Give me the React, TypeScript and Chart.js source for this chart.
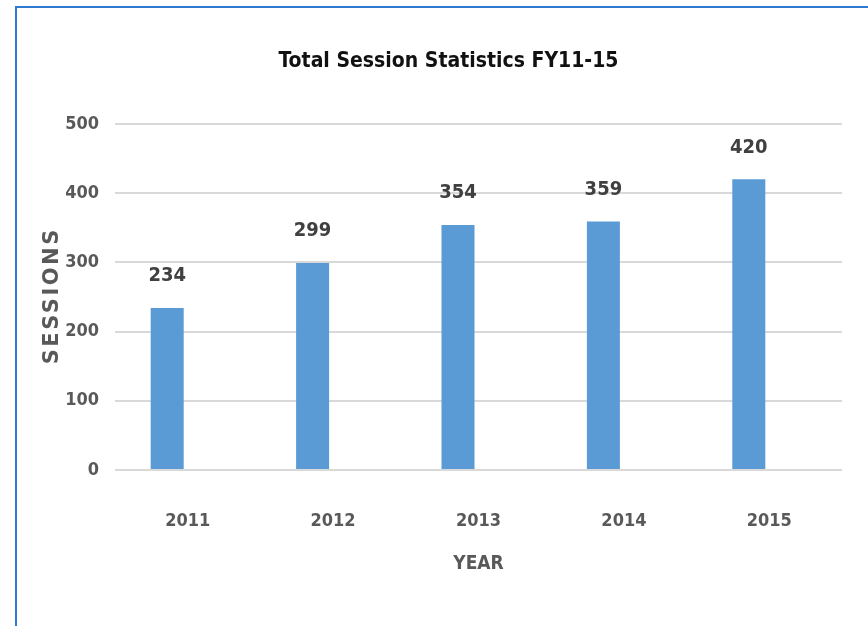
import React, { useEffect, useRef } from "react";
import { Chart, registerables } from "chart.js";

Chart.register(...registerables);

const categories = ["2011", "2012", "2013", "2014", "2015"];
const sessions = [234, 299, 354, 359, 420];
const spacerSeries = [null, null, null, null, null];
const yTicks = [0, 100, 200, 300, 400, 500];

const NARROW = "'Liberation Sans Narrow', 'DejaVu Sans Condensed', 'Noto Sans', sans-serif";

const dataLabelPlugin = {
  id: "dataLabels",
  afterDatasetsDraw(chart: any) {
    const ctx = chart.ctx;
    const meta = chart.getDatasetMeta(0);
    ctx.save();
    ctx.font = `bold 20px ${NARROW}`;
    ctx.fillStyle = "#404040";
    ctx.textAlign = "center";
    ctx.textBaseline = "middle";
    meta.data.forEach((el: any, i: number) => {
      ctx.fillText(String(sessions[i]), el.x, el.y - 32);
    });
    ctx.restore();
  },
};

const yTitlePlugin = {
  id: "yTitle",
  afterDraw(chart: any) {
    const ctx = chart.ctx;
    const area = chart.chartArea;
    ctx.save();
    ctx.translate(53, (area.top + area.bottom) / 2);
    ctx.rotate(-Math.PI / 2);
    ctx.font = "bold 21px 'DejaVu Sans', 'Liberation Sans', sans-serif";
    (ctx as any).letterSpacing = "2.5px";
    ctx.fillStyle = "#595959";
    ctx.textAlign = "center";
    ctx.textBaseline = "middle";
    ctx.fillText("SESSIONS", 1.25, 0);
    ctx.restore();
  },
};

export default function App() {
  const ref = useRef<HTMLCanvasElement>(null);

  useEffect(() => {
    if (!ref.current) return;
    const chart = new Chart(ref.current, {
      type: "bar",
      data: {
        labels: categories,
        datasets: [
          {
            label: "Sessions",
            data: sessions,
            backgroundColor: "#5b9bd5",
            categoryPercentage: 0.564,
            barPercentage: 0.805,
          },
          {
            label: "",
            data: spacerSeries as any,
            backgroundColor: "#ed7d31",
            categoryPercentage: 0.564,
            barPercentage: 0.805,
          },
        ],
      },
      options: {
        responsive: false,
        animation: false,
        layout: { padding: { left: 55, right: 26, top: 0, bottom: 0 } },
        plugins: {
          legend: { display: false },
          tooltip: { enabled: false },
          title: {
            display: true,
            text: "Total Session Statistics FY11-15",
            color: "#111111",
            font: { family: NARROW, size: 21, weight: "bold" },
            padding: { top: 49.4, bottom: 49.4 },
          },
        },
        scales: {
          x: {
            grid: { display: false },
            border: { display: false },
            ticks: {
              color: "#595959",
              font: { family: NARROW, size: 18, weight: "bold" },
              padding: 32.2,
              maxRotation: 0,
            },
            title: {
              display: true,
              text: "YEAR",
              color: "#595959",
              font: { family: NARROW, size: 19, weight: "bold" },
              padding: { top: 0, bottom: 50.6 },
            },
            afterFit: (s: any) => {
              s.height = 156;
            },
          },
          y: {
            min: 0,
            max: 500,
            afterBuildTicks: (s: any) => {
              s.ticks = yTicks.map((v) => ({ value: v }));
            },
            grid: { color: "#d9d9d9", lineWidth: 2, drawTicks: false },
            border: { display: false },
            ticks: {
              color: "#595959",
              font: { family: NARROW, size: 18, weight: "bold" },
              padding: 16,
            },
            afterFit: (s: any) => {
              s.width = 60;
            },
          },
        },
      },
      plugins: [dataLabelPlugin, yTitlePlugin],
    });
    return () => chart.destroy();
  }, []);

  return (
    <div
      style={{
        position: "fixed",
        left: 0,
        top: 0,
        width: 868,
        height: 626,
        overflow: "hidden",
        background: "#ffffff",
      }}
    >
      <div
        style={{
          position: "absolute",
          left: 15,
          top: 6,
          width: 900,
          height: 700,
          borderTop: "2px solid #2f7ad0",
          borderLeft: "2px solid #2f7ad0",
        }}
      />
      <canvas
        ref={ref}
        width={868}
        height={626}
        style={{ position: "absolute", left: 0, top: 0, width: 868, height: 626 }}
      />
    </div>
  );
}
